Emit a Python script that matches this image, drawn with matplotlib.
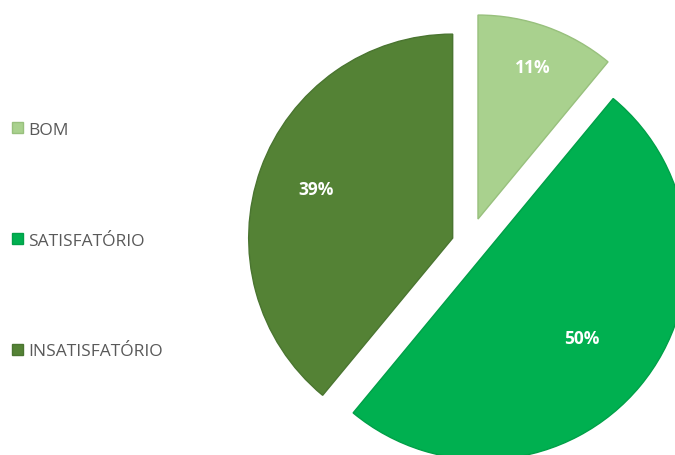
import matplotlib
matplotlib.use("Agg")
import matplotlib.pyplot as plt
import numpy as np

categories = ["BOM", "SATISFATÓRIO", "INSATISFATÓRIO"]
values = [11, 50, 39]
colors = ["#A9D18E", "#00B050", "#548235"]
edge_colors = ["#98C07D", "#00A048", "#4A7530"]
explode = [0.13, 0.09, 0.085]
label_dist = [0.79, 0.63, 0.71]

plt.rcParams['font.family'] = ['Open Sans', 'DejaVu Sans']

fig = plt.figure(figsize=(6.75, 4.56), dpi=100)
ax = fig.add_axes([0, 0, 1, 1])

wedges, _ = ax.pie(values, colors=colors, startangle=90, counterclock=False,
                   explode=explode, wedgeprops=dict(linewidth=1.0))
for w, ec in zip(wedges, edge_colors):
    w.set_edgecolor(ec)

for w, v, d in zip(wedges, values, label_dist):
    th = np.deg2rad((w.theta1 + w.theta2) / 2)
    cx, cy = w.center
    ax.text(cx + d * w.r * np.cos(th), cy + d * w.r * np.sin(th), f"{v}%",
            ha="center", va="center", color="white", fontsize=12.5, fontweight="bold")

px = 204.0
cxp, cyp = 469.0, 245.0
ax.set_xlim(-cxp / px, (675 - cxp) / px)
ax.set_ylim(-(456 - cyp) / px, cyp / px)
ax.set_aspect("auto")
ax.axis("off")

leg = fig.legend(wedges, categories, loc="upper left", bbox_to_anchor=(0.0, 0.757),
                 frameon=False, fontsize=12.5, labelspacing=5.45, handlelength=0.6,
                 handleheight=0.6, handletextpad=0.3, labelcolor="#595959",
                 borderaxespad=0.4, borderpad=0.3)

fig.savefig("out.png", dpi=100)
